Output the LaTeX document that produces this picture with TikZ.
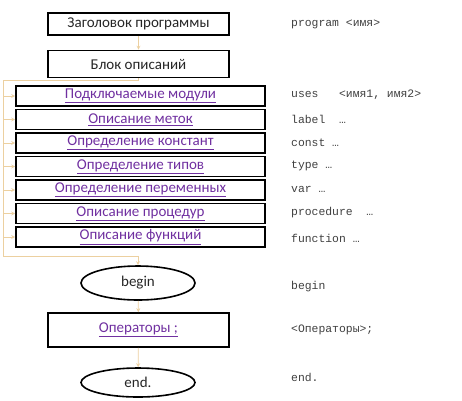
\documentclass[tikz,border=0pt]{standalone}
\usepackage{fontspec}
\setmainfont{Carlito}
\newfontfamily\codefont{Liberation Mono}
\usetikzlibrary{shapes.geometric}
\definecolor{linkpurple}{RGB}{112,48,160}
\definecolor{flowtan}{RGB}{236,208,160}
\definecolor{codegray}{RGB}{64,64,64}
\definecolor{boxtext}{RGB}{38,38,38}
\newcommand{\lnk}[1]{\textcolor{linkpurple}{\underline{#1}}}

\begin{document}
\begin{tikzpicture}[x=1pt,y=-1pt]
  \tikzstyle{mybox}=[draw=black, line width=1.6pt, text=boxtext, inner sep=0pt,
    align=center, font=\fontsize{15}{17}\selectfont];
  \tikzstyle{myblock}=[mybox, minimum width=181pt];
  \tikzstyle{mypart}=[mybox, minimum width=249pt, minimum height=20pt];
  \tikzstyle{myoval}=[mybox, ellipse, minimum width=114pt];
  \tikzstyle{mycode}=[anchor=west, inner sep=0pt, text=codegray,
    font=\codefont\fontsize{11.4}{13}\selectfont];
  \tikzstyle{myline}=[flowtan, line width=0.8pt];
  \tikzstyle{myconn}=[myline, ->, >=stealth];
  %
  \useasboundingbox (0,0) rectangle (462,400);
  %
  % program head and declarations
  \node[myblock, minimum height=22pt] (hdr) at (138.5,24) {Заголовок программы};
  \node[myblock, minimum height=27pt] (decl) at (138.5,64) {Блок описаний};
  %
  \node[mypart] (uses) at (140.5,96) {\lnk{Подключаемые модули}};
  \node[mypart] (lbl) at (140.5,119.5) {\lnk{Описание меток}};
  \node[mypart] (cnst) at (140.5,143) {\lnk{Определение констант}};
  \node[mypart] (typ) at (140.5,166.5) {\lnk{Определение типов}};
  \node[mypart] (vars) at (140.5,190) {\lnk{Определение переменных}};
  \node[mypart] (proc) at (140.5,213.5) {\lnk{Описание процедур}};
  \node[mypart] (func) at (140.5,237) {\lnk{Описание функций}};
  %
  % program body
  \node[myoval, minimum height=34pt] (beg) at (138,283) {begin};
  \node[myblock, minimum height=34pt] (ops) at (138.5,330) {\lnk{Операторы ;}};
  \node[myoval, minimum height=29pt] (fin) at (138,382.5) {end.};
  %
  % pascal text
  \node[mycode] (t1) at (291,24) {program <имя>};
  \node[mycode] (t2) at (291,95) {uses\ \ \ <имя1, имя2>};
  \node[mycode] (t3) at (291,119) {label\ \ …};
  \node[mycode] (t4) at (291,142.5) {const …};
  \node[mycode] (t5) at (291,166) {type …};
  \node[mycode] (t6) at (291,189.5) {var …};
  \node[mycode] (t7) at (291,213) {procedure\ \ …};
  \node[mycode] (t8) at (291,238) {function …};
  \node[mycode] (t9) at (291,287) {begin};
  \node[mycode] (t10) at (291,330) {<Операторы>;};
  \node[mycode] (t11) at (291,377) {end.};
  %
  % connectors
  \coordinate (bustop) at (3,80);
  \coordinate (busbot) at (3,256);
  \draw[myconn] (hdr) -- (decl);
  \draw[myconn] (decl.south) |- (bustop) -- (busbot) -| (beg.north);
  \draw[myconn] (bustop |- uses.west) -- (uses.west);
  \draw[myconn] (bustop |- lbl.west) -- (lbl.west);
  \draw[myconn] (bustop |- cnst.west) -- (cnst.west);
  \draw[myconn] (bustop |- typ.west) -- (typ.west);
  \draw[myconn] (bustop |- vars.west) -- (vars.west);
  \draw[myconn] (bustop |- proc.west) -- (proc.west);
  \draw[myconn] (bustop |- func.west) -- (func.west);
  \draw[myconn] (beg) -- (ops);
  \draw[myconn] (ops) -- (fin);
\end{tikzpicture}
\end{document}
